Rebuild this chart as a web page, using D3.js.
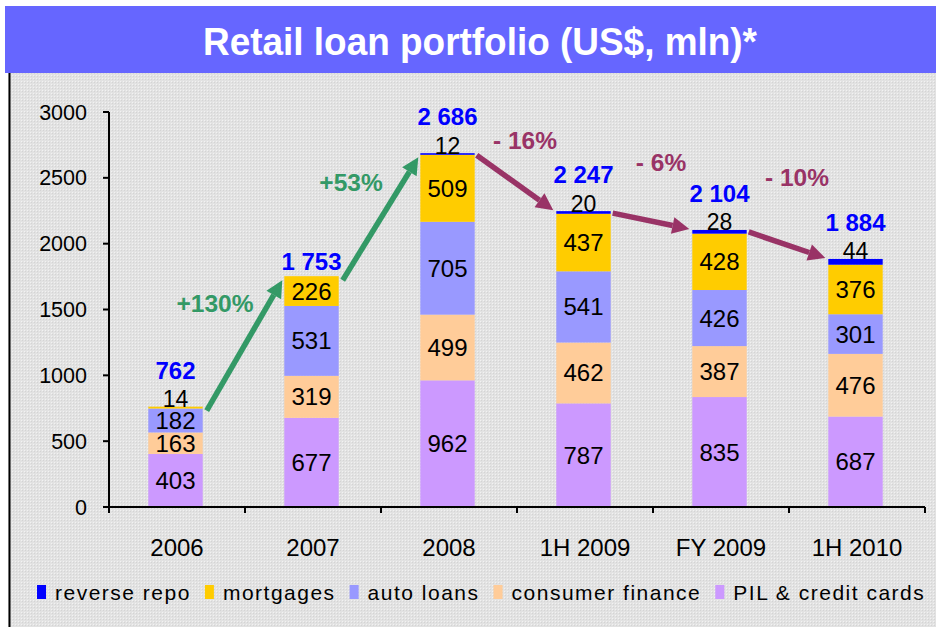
<!DOCTYPE html>
<html><head><meta charset="utf-8">
<script src="https://cdn.jsdelivr.net/npm/d3@7/dist/d3.min.js"></script>
<style>body{margin:0;background:#fff}svg{display:block;font-family:"Liberation Sans",Arial,sans-serif}</style>
</head><body>
<svg id="c" width="936" height="627"></svg>
<script>
const categories = ["2006","2007","2008","1H 2009","FY 2009","1H 2010"];
const seriesNames = ["PIL & credit cards","consumer finance","auto loans","mortgages","reverse repo"];
const pil      = [403, 677, 962, 787, 835, 687];
const consumer = [163, 319, 499, 462, 387, 476];
const auto     = [182, 531, 705, 541, 426, 301];
const mortgage = [14, 226, 509, 437, 428, 376];
const repo     = [0, 0, 12, 20, 28, 44];
const totals   = ["762","1 753","2 686","2 247","2 104","1 884"];
const yTicks   = [0,500,1000,1500,2000,2500,3000];
const changes  = ["+130%","+53%","- 16%","- 6%","- 10%"];
const changeLevels = [1549, 2468, 2787, 2620, 2506];
const legendOrder = ["reverse repo","mortgages","auto loans","consumer finance","PIL & credit cards"];
const colors = {"PIL & credit cards":"#CC99FF","consumer finance":"#FFCC99","auto loans":"#9999FF","mortgages":"#FFCC00","reverse repo":"#0000FF"};

const seriesVals = [pil, consumer, auto, mortgage, repo];
const svg = d3.select("#c");

// background pattern
const defs = svg.append("defs");
const pat = defs.append("pattern").attr("id","dots").attr("width",3).attr("height",3).attr("patternUnits","userSpaceOnUse");
pat.append("rect").attr("width",3).attr("height",3).attr("fill","#E2E2E2");
pat.append("rect").attr("x",0).attr("y",0).attr("width",1).attr("height",1).attr("fill","#F2F2F2");
pat.append("rect").attr("x",1).attr("y",1).attr("width",1).attr("height",1).attr("fill","#D4D4D4");

svg.append("rect").attr("x",8).attr("y",73).attr("width",928).attr("height",554).attr("fill","url(#dots)");
svg.append("line").attr("x1",9.5).attr("x2",9.5).attr("y1",73).attr("y2",627).attr("stroke","#000").attr("stroke-width",2);

// title
svg.append("rect").attr("x",5).attr("y",6).attr("width",931).attr("height",67).attr("fill","#6666FF");
svg.append("text").attr("x",480).attr("y",55).attr("text-anchor","middle")
  .attr("fill","#fff").attr("font-weight","bold").attr("font-size",39)
  .attr("textLength",554).attr("lengthAdjust","spacingAndGlyphs")
  .text("Retail loan portfolio (US$, mln)*");

const x = d3.scaleBand().domain(categories).range([109,925]).paddingInner(0.6).paddingOuter(0.3);
const y = d3.scaleLinear().domain([0,3000]).range([507,112]);

// stacked data
const table = categories.map((c,i)=>{const o={cat:c}; seriesNames.forEach((s,k)=>o[s]=seriesVals[k][i]); return o;});
const stack = d3.stack().keys(seriesNames)(table);
const bw = x.bandwidth();
const xb = c => x(c) - 1.5;

const g = svg.append("g");
stack.forEach(layer=>{
  g.selectAll(null).data(layer).enter().append("rect")
   .attr("x",d=>xb(d.data.cat)).attr("width",bw)
   .attr("y",d=>y(d[1])).attr("height",d=>y(d[0])-y(d[1]))
   .attr("fill",colors[layer.key]);
});

// segment labels
const smallTop = categories.map(()=>null);
stack.forEach(layer=>{
  layer.forEach((d,i)=>{
    const v = d[1]-d[0];
    if (v<=0) return;
    if (v < 60) { smallTop[i] = v; return; }
    g.append("text").attr("x",xb(d.data.cat)+bw/2).attr("y",(y(d[0])+y(d[1]))/2+8.5)
     .attr("text-anchor","middle").attr("font-size",24).attr("fill","#000").text(v);
  });
});
const tot = table.map(o=>d3.sum(seriesNames,s=>o[s]));
categories.forEach((c,i)=>{
  const top = y(tot[i]);
  if (smallTop[i]!==null) {
    g.append("text").attr("x",xb(c)+bw/2).attr("y",top+0.5).attr("text-anchor","middle")
     .attr("font-size",23).attr("fill","#000").text(smallTop[i]);
  }
  g.append("text").attr("x",xb(c)+bw/2).attr("y",top-(smallTop[i]!==null?28:6)).attr("text-anchor","middle")
   .attr("font-size",24).attr("font-weight","bold").attr("fill","#0000FF").text(totals[i]);
});

// axes
const ax = svg.append("g");
ax.append("line").attr("x1",109).attr("x2",109).attr("y1",112).attr("y2",507).attr("stroke","#000").attr("stroke-width",2);
ax.append("line").attr("x1",103).attr("x2",925).attr("y1",507).attr("y2",507).attr("stroke","#000").attr("stroke-width",2);
yTicks.forEach(t=>{
  ax.append("line").attr("x1",103).attr("x2",109).attr("y1",y(t)).attr("y2",y(t)).attr("stroke","#000").attr("stroke-width",2);
  ax.append("text").attr("x",87).attr("y",y(t)+7.5).attr("text-anchor","end").attr("font-size",21.5).attr("fill","#000").text(t);
});
const step = x.step();
d3.range(categories.length+1).forEach(k=>{
  const xx = 109 + k*step;
  ax.append("line").attr("x1",xx).attr("x2",xx).attr("y1",507).attr("y2",513).attr("stroke","#000").attr("stroke-width",2);
});
categories.forEach(c=>{
  ax.append("text").attr("x",x(c)+bw/2).attr("y",556).attr("text-anchor","middle").attr("font-size",24).attr("fill","#000").text(c);
});

// arrows
function arrow(x1,y1,x2,y2,color){
  const ang = Math.atan2(y2-y1,x2-x1), L=17, W=8.5;
  const bx = x2 - L*Math.cos(ang), by = y2 - L*Math.sin(ang);
  svg.append("line").attr("x1",x1).attr("y1",y1).attr("x2",bx).attr("y2",by).attr("stroke",color).attr("stroke-width",5.5);
  const px = -Math.sin(ang), py = Math.cos(ang);
  svg.append("polygon").attr("points",[[x2,y2],[bx+px*W,by+py*W],[bx-px*W,by-py*W]].map(p=>p.join(",")).join(" ")).attr("fill",color);
}
for (let i=0;i<categories.length-1;i++){
  const up = tot[i+1] > tot[i];
  const color = up ? "#339966" : "#993366";
  const x1 = xb(categories[i])+bw+(up?4:2), y1 = y(tot[i])+(up?4:2);
  const x2 = xb(categories[i+1])-(up?2:3), y2 = y(tot[i+1])+(up?4:-1);
  arrow(x1,y1,x2,y2,color);
  const bnd = 109 + (i+1)*step;
  svg.append("text").attr("x",bnd + (up?-30:8)).attr("y",y(changeLevels[i])+9).attr("text-anchor","middle")
    .attr("font-size",24.5).attr("font-weight","bold").attr("fill",color).text(changes[i]);
}

// legend
const lg = svg.append("g");
let lx = 37;
legendOrder.forEach(n=>{
  lg.append("rect").attr("x",lx).attr("y",585).attr("width",9).attr("height",14).attr("fill",colors[n]);
  const t = lg.append("text").attr("x",lx+18).attr("y",600).attr("font-size",21).attr("letter-spacing",1.5).attr("fill","#000").text(n);
  lx = lx + 18 + t.node().getComputedTextLength() + 14;
});
</script>
</body></html>
